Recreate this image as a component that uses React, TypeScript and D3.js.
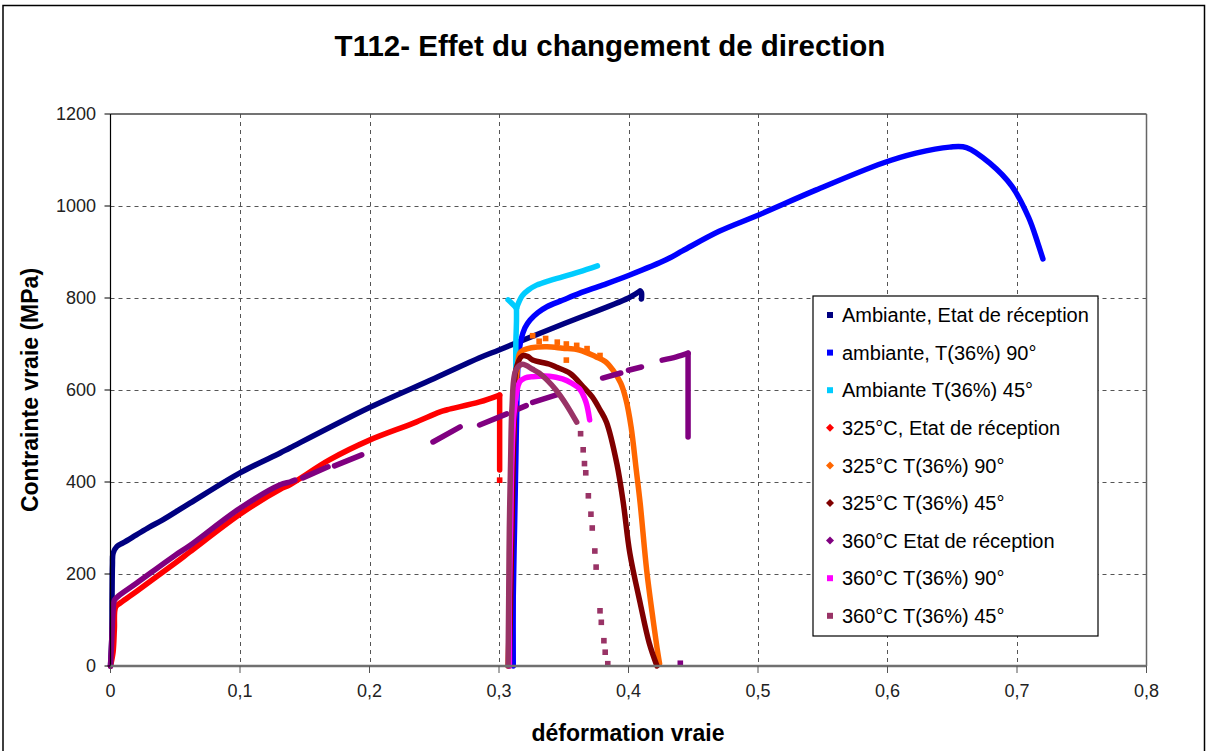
import React from "react";
import * as d3 from "d3";

type P = [number, number];

const xTicks = [0, 0.1, 0.2, 0.3, 0.4, 0.5, 0.6, 0.7, 0.8];
const yTicks = [0, 200, 400, 600, 800, 1000, 1200];

const titleText = "T112- Effet du changement de direction";
const xLabel = "déformation vraie";
const yLabel = "Contrainte vraie (MPa)";

const ambRec: P[] = [
  [0, 0], [0.001, 60], [0.0012, 150], [0.0015, 220], [0.002, 245], [0.005, 260], [0.01, 268],
  [0.02, 285], [0.03, 302], [0.04, 317], [0.0613, 354], [0.1, 420], [0.131, 463], [0.1385, 474],
  [0.2, 562], [0.25, 625], [0.285, 670], [0.3, 687], [0.35, 744], [0.4, 800], [0.409, 815],
];
const ambRecEnd: P[] = [[0.409, 815], [0.41, 812], [0.41, 798]];
const amb90: P[] = [
  [0.311, 0], [0.311, 150], [0.312, 300], [0.313, 450], [0.314, 600], [0.315, 670], [0.317, 709],
  [0.32, 735], [0.324, 752], [0.33, 768], [0.337, 781], [0.349, 795], [0.362, 810], [0.38, 828],
  [0.401, 850], [0.429, 883], [0.442, 903], [0.47, 945], [0.5, 980], [0.545, 1035], [0.596, 1093],
  [0.622, 1115], [0.648, 1128], [0.661, 1127], [0.679, 1093], [0.696, 1043], [0.709, 975],
  [0.716, 920], [0.72, 885],
];
const amb45Stem: P[] = [[0.313, 580], [0.313, 640], [0.313, 700], [0.3135, 750], [0.3135, 778]];
const amb45Branch: P[] = [[0.3135, 778], [0.31, 788], [0.307, 796]];
const amb45: P[] = [
  [0.3135, 778], [0.318, 805], [0.323, 818], [0.329, 828], [0.339, 838], [0.349, 846],
  [0.362, 857], [0.376, 870],
];
const c325Rec: P[] = [
  [0, 0], [0.002, 30], [0.003, 80], [0.004, 128], [0.008, 138], [0.02, 162], [0.05, 224],
  [0.0613, 248], [0.1, 330], [0.131, 384], [0.1385, 394], [0.169, 448], [0.2, 491], [0.234, 528],
  [0.254, 552], [0.26, 557], [0.285, 574], [0.3005, 589],
];
const c325RecDrop: P[] = [[0.3005, 589], [0.3005, 560], [0.3005, 470], [0.3005, 426]];
const c325RecDots: P[] = [[0.3005, 404]];
const c325T90: P[] = [
  [0.307, 0], [0.308, 100], [0.309, 250], [0.31, 400], [0.312, 550], [0.314, 640], [0.316, 680],
  [0.319, 687], [0.325, 692], [0.337, 694], [0.349, 691], [0.362, 687], [0.375, 672], [0.382, 662],
  [0.388, 643], [0.394, 615], [0.398, 580], [0.402, 520], [0.406, 426], [0.409, 354], [0.414, 209],
  [0.419, 100], [0.422, 40], [0.424, 5],
];
const c325T90Dots: P[] = [
  [0.326, 718], [0.331, 706], [0.336, 712], [0.345, 704], [0.352, 700], [0.36, 697], [0.368, 690],
  [0.352, 665], [0.378, 675],
];
const c325T45: P[] = [
  [0.308, 0], [0.309, 150], [0.31, 300], [0.311, 450], [0.312, 560], [0.313, 643], [0.318, 674],
  [0.322, 673], [0.326, 665], [0.339, 656], [0.344, 650], [0.355, 636], [0.365, 607], [0.372, 585],
  [0.378, 557], [0.383, 530], [0.391, 440], [0.396, 354], [0.401, 246], [0.409, 137], [0.416, 50],
  [0.422, 0],
];
const c360Rec: P[][] = [
  [[0, 0], [0.001, 60], [0.002, 120], [0.003, 143], [0.006, 152], [0.02, 180], [0.05, 241],
    [0.0613, 262], [0.1, 343], [0.131, 394], [0.1385, 400], [0.1424, 404]],
  [[0.1485, 409], [0.168, 433]],
  [[0.173, 435], [0.194, 459]],
  [[0.249, 487], [0.27, 520]],
  [[0.285, 524], [0.306, 548]],
  [[0.31, 553], [0.321, 566]],
  [[0.326, 573], [0.345, 590]],
  [[0.38, 626], [0.394, 637]],
  [[0.4, 643], [0.41, 650]],
  [[0.426, 665], [0.437, 672], [0.446, 680]],
  [[0.446, 680], [0.446, 600], [0.446, 498]],
];
const c360RecDots: P[] = [[0.44, 6]];
const c360T90: P[] = [
  [0.308, 0], [0.308, 150], [0.309, 300], [0.31, 450], [0.312, 560], [0.316, 618], [0.32, 626],
  [0.326, 629], [0.339, 630], [0.349, 624], [0.356, 615], [0.362, 603], [0.367, 575], [0.37, 535],
];
const c360T45: P[] = [
  [0.307, 0], [0.3075, 150], [0.308, 300], [0.309, 450], [0.31, 560], [0.313, 643], [0.318, 656],
  [0.326, 645], [0.331, 637], [0.337, 622], [0.344, 600], [0.352, 568], [0.36, 530],
];
const c360T45Dots: P[] = [
  [0.363, 505], [0.365, 470], [0.366, 440], [0.367, 420], [0.369, 370], [0.371, 330], [0.372, 300],
  [0.374, 250], [0.375, 215], [0.378, 120], [0.379, 95], [0.381, 55], [0.382, 30], [0.384, 5],
];

const seriesNames = [
  "Ambiante, Etat de réception",
  "ambiante, T(36%) 90°",
  "Ambiante T(36%) 45°",
  "325°C, Etat de réception",
  "325°C T(36%) 90°",
  "325°C T(36%) 45°",
  "360°C Etat de réception",
  "360°C T(36%) 90°",
  "360°C T(36%) 45°",
];
const seriesColors = [
  "#000080", "#0000FF", "#00CCFF", "#FF0000", "#FF6600", "#800000", "#800080", "#FF00FF", "#993366",
];
const markerShapes = ["square", "square", "square", "diamond", "diamond", "diamond", "diamond", "square", "square"];

const W = 1207;
const H = 751;
const L = 110.5, R = 1146.5, T = 114, B = 666;

export default function App() {
  const x = d3.scaleLinear().domain([0, 0.8]).range([L, R]);
  const y = d3.scaleLinear().domain([0, 1200]).range([B, T]);
  const line = d3.line<P>().x((d) => x(d[0])).y((d) => y(d[1])).curve(d3.curveCatmullRom.alpha(0.5));
  const loc = d3.formatLocale({ decimal: ",", thousands: " ", grouping: [3], currency: ["", "€"] });
  const fx = loc.format(".1~f");

  const seriesLines: P[][][] = [
    [ambRec, ambRecEnd], [amb90], [amb45Stem, amb45Branch, amb45], [c325Rec, c325RecDrop],
    [c325T90], [c325T45], c360Rec, [c360T90], [c360T45],
  ];
  const seriesDots: P[][] = [[], [], [], c325RecDots, c325T90Dots, [], c360RecDots, [], c360T45Dots];

  const font = "'Liberation Sans', Arial, sans-serif";
  const legX = 813, legY = 296, legW = 285, legH = 340, rowH = 37.6;

  return (
    <svg width={W} height={H} style={{ position: "absolute", left: 0, top: 0, background: "#fff" }} fontFamily={font}>
      <rect x={0} y={0} width={W} height={H} fill="#fff" />
      <rect x={3} y={5.5} width={1201.5} height={800} fill="none" stroke="#000" strokeWidth={1.5} />
      <text x={610} y={56} textAnchor="middle" fontSize={29.5} fontWeight="bold" fill="#000">{titleText}</text>

      {/* gridlines */}
      {yTicks.filter((t) => t > 0 && t < 1200).map((t) => (
        <line key={"gy" + t} x1={L} x2={R} y1={Math.round(y(t)) + 0.5} y2={Math.round(y(t)) + 0.5}
          stroke="#555" strokeWidth={1} strokeDasharray="4,4" />
      ))}
      {xTicks.filter((t) => t > 0 && t < 0.8).map((t) => (
        <line key={"gx" + t} y1={T} y2={B} x1={Math.round(x(t)) + 0.5} x2={Math.round(x(t)) + 0.5}
          stroke="#555" strokeWidth={1} strokeDasharray="4,4" />
      ))}
      {/* plot border */}
      <line x1={L} x2={R} y1={T} y2={T} stroke="#444" strokeWidth={1.5} />
      <line x1={R} x2={R} y1={T} y2={B} stroke="#666" strokeWidth={1.5} />

      {/* series */}
      {seriesLines.map((segs, i) => (
        <g key={"s" + i}>
          {segs.map((seg, j) => (
            <path key={j} d={line(seg) || ""} fill="none" stroke={seriesColors[i]} strokeWidth={5.5}
              strokeLinejoin="round" strokeLinecap="round" />
          ))}
          {seriesDots[i].map((p, j) => (
            <rect key={"d" + j} x={x(p[0]) - 2.8} y={y(p[1]) - 2.8} width={5.6} height={5.6} fill={seriesColors[i]} />
          ))}
        </g>
      ))}

      {/* axes */}
      <line x1={L} x2={L} y1={T} y2={B} stroke="#000" strokeWidth={1.2} />
      <line x1={L} x2={R} y1={B} y2={B} stroke="#707070" strokeWidth={2.5} />
      {yTicks.map((t) => (
        <g key={"yt" + t}>
          <line x1={L - 6} x2={L} y1={y(t)} y2={y(t)} stroke="#000" strokeWidth={1} />
          <text x={96} y={y(t)} dy="0.35em" textAnchor="end" fontSize={18} fill="#222">{t}</text>
        </g>
      ))}
      {xTicks.map((t) => (
        <g key={"xt" + t}>
          <line x1={x(t)} x2={x(t)} y1={B} y2={B + 7} stroke="#555" strokeWidth={1} />
          <text x={x(t)} y={697} textAnchor="middle" fontSize={18} fill="#222">{fx(t)}</text>
        </g>
      ))}
      <text x={628} y={741} textAnchor="middle" fontSize={23} fontWeight="bold" fill="#000">{xLabel}</text>
      <text transform={`translate(38,390) rotate(-90)`} textAnchor="middle" fontSize={23} fontWeight="bold" fill="#000">{yLabel}</text>

      {/* legend */}
      <rect x={legX} y={legY} width={legW} height={legH} fill="#fff" stroke="#000" strokeWidth={1.2} />
      {seriesNames.map((n, i) => {
        const cy = legY + 19 + i * rowH;
        const c = seriesColors[i];
        return (
          <g key={"l" + i}>
            {markerShapes[i] === "square" ? (
              <rect x={830 - 3} y={cy - 3} width={6} height={6} fill={c} />
            ) : (
              <path d={`M830,${cy - 4}L834,${cy}L830,${cy + 4}L826,${cy}Z`} fill={c} />
            )}
            <text x={842} y={cy} dy="0.36em" fontSize={20} fill="#000">{n}</text>
          </g>
        );
      })}
    </svg>
  );
}
